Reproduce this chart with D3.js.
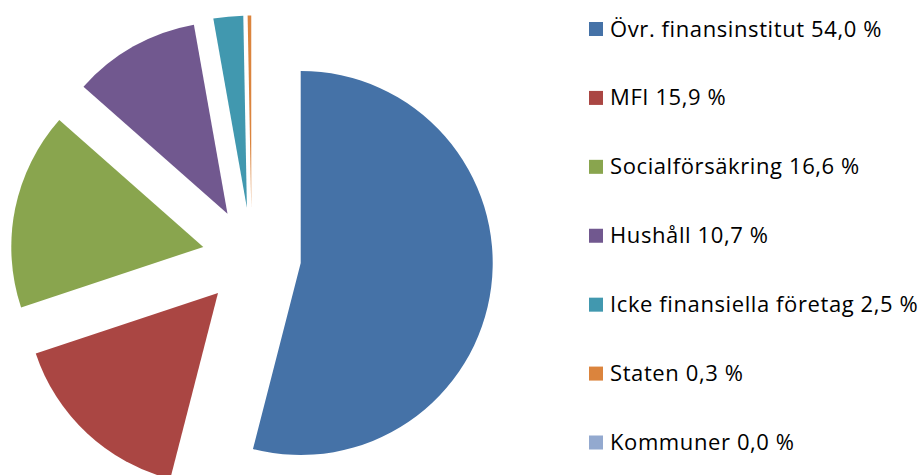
<!DOCTYPE html>
<html>
<head>
<meta charset="utf-8">
<script src="https://cdn.jsdelivr.net/npm/d3@7"></script>
<style>
  body { margin: 0; background: #fff; }
  text { font-family: "Open Sans", Lato, sans-serif; fill: #000; }
</style>
</head>
<body>
<div id="chart"></div>
<script>
var categories = ["Övr. finansinstitut", "MFI", "Socialförsäkring", "Hushåll", "Icke finansiella företag", "Staten", "Kommuner"];
var values = [54.0, 15.9, 16.6, 10.7, 2.5, 0.3, 0.0];
var labels = ["54,0 %", "15,9 %", "16,6 %", "10,7 %", "2,5 %", "0,3 %", "0,0 %"];
var colors = ["#4572A7", "#AA4643", "#89A54E", "#71588F", "#4198AF", "#DB843D", "#93A9CF"];

var width = 923, height = 475;
var cx = 251.7, cy = 256.8, radius = 192, explode = 49.4;

var svg = d3.select("#chart").append("svg")
  .attr("width", width)
  .attr("height", height);

var data = categories.map(function(c, i){ return {name: c, value: values[i], label: labels[i], color: colors[i]}; });

var pie = d3.pie().sort(null).value(function(d){ return d.value; });
var arc = d3.arc().innerRadius(0).outerRadius(radius);

var g = svg.append("g").attr("transform", "translate(" + cx + "," + cy + ")");

// each slice pushed out along its bisector
g.selectAll("path.slice")
  .data(pie(data).filter(function(d){ return d.data.value > 0; }))
  .enter().append("path")
  .attr("class", "slice")
  .attr("d", arc)
  .attr("transform", function(d){
    var a = (d.startAngle + d.endAngle) / 2;
    return "translate(" + (Math.sin(a) * explode) + "," + (-Math.cos(a) * explode) + ")";
  })
  .style("fill", function(d){ return d.data.color; });

// legend
var legendY = d3.scalePoint().domain(categories).range([29, 442.5]);
var legend = svg.selectAll("g.legend")
  .data(data)
  .enter().append("g")
  .attr("class", "legend")
  .attr("transform", function(d){ return "translate(589," + legendY(d.name) + ")"; });

legend.append("rect")
  .attr("x", 0)
  .attr("y", -7)
  .attr("width", 14)
  .attr("height", 14)
  .style("fill", function(d){ return d.color; });

legend.append("text")
  .attr("x", 21)
  .attr("y", 7.5)
  .style("font-size", "22px")
  .style("letter-spacing", "0.6px")
  .text(function(d){ return d.name + " " + d.label; });
</script>
</body>
</html>
